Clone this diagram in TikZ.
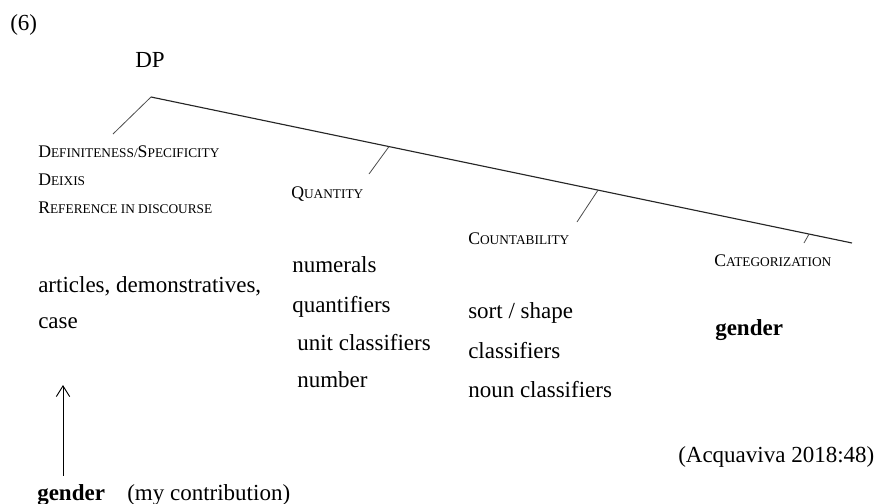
\documentclass[tikz,border=0pt]{standalone}
\usepackage{fontspec}
\setmainfont{Liberation Serif}
\usepackage{tikz}
\usetikzlibrary{positioning,calc,arrows.meta}
\DeclareRobustCommand{\capsc}[2]{{\fontsize{13.3}{16}\selectfont #1}{\fontsize{10}{12}\selectfont #2}}

\begin{document}
\begin{tikzpicture}[x=0.75pt, y=-0.75pt, every node/.style={inner sep=0pt, anchor=base west, font=\fontsize{17.25}{20}\selectfont},
  lbl/.style={font=\fontsize{13.3}{16}\selectfont},
  trunk/.style={line width=0.85pt, black!85},
  branch/.style={line width=0.6pt, black!70}]
\useasboundingbox (0,0) rectangle (876,504);
\node (ex) at (10,30) {(6)};
\node[anchor=base] (dp) at (150,67) {DP};
% tree skeleton
\coordinate (top) at (151,97);
\coordinate (tend) at (852,243);
\coordinate (qfoot) at (369,174);
\coordinate (cfoot) at (577,222);
\coordinate (kfoot) at (804,243);
\coordinate (dfoot) at (113,134);
\draw[trunk] (top) -- (tend);
\draw[branch] (top) -- (dfoot);
\draw[branch] ($(top)!0.3395!(tend)$) -- (qfoot);
\draw[branch] ($(top)!0.6377!(tend)$) -- (cfoot);
\draw[branch] ($(top)!0.9387!(tend)$) -- (kfoot);
% feature labels
\node[lbl] (defin) at (38,157) {\capsc{D}{EFINITENESS/}\capsc{S}{PECIFICITY}};
\node[lbl] (deixis) at (38,185) {\capsc{D}{EIXIS}};
\node[lbl] (refer) at (38,213) {\capsc{R}{EFERENCE IN DISCOURSE}};
\node[lbl] (quant) at (291,198) {\capsc{Q}{UANTITY}};
\node[lbl] (count) at (468,244) {\capsc{C}{OUNTABILITY}};
\node[lbl] (categ) at (714,266) {\capsc{C}{ATEGORIZATION}};
% exponents
\node (art) at (38,292) {articles, demonstratives,};
\node (case) at (38,328) {case};
\node (numer) at (292,272) {numerals};
\node (quantif) at (292,312) {quantifiers};
\node (unitcl) at (297,350) {unit classifiers};
\node (numb) at (297,387) {number};
\node (sort) at (468,318) {sort / shape};
\node (classif) at (468,358) {classifiers};
\node (nouncl) at (468,397) {noun classifiers};
\node (gendr) at (715,335) {\textbf{gender}};
\node (src) at (678,462) {(Acquaviva 2018:48)};
% my addition
\node (gendb) at (37,500) {\textbf{gender}};
\node (contrib) at (127,500) {(my contribution)};
\coordinate (arrtip) at (63,385);
\draw[-{Straight Barb[length=8pt,width=10pt]}, line width=0.7pt, shorten <=6pt] (gendb.north -| arrtip) -- (arrtip);
\end{tikzpicture}
\end{document}
